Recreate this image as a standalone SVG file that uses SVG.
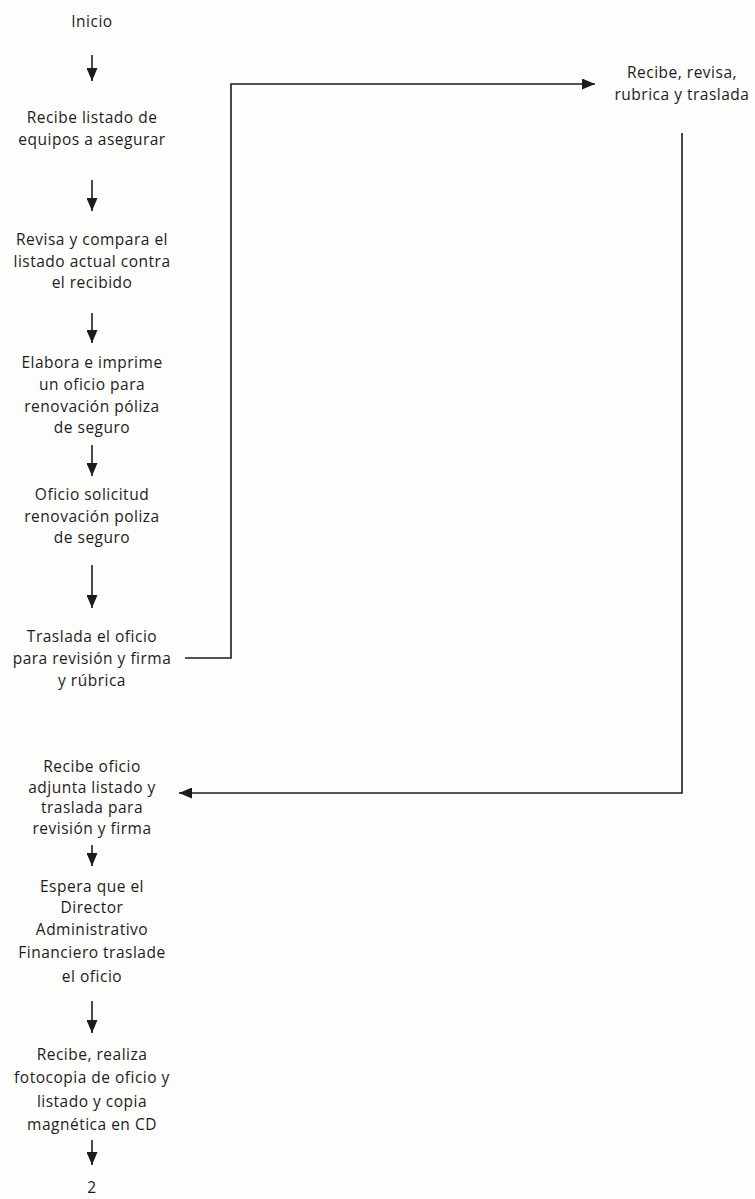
<svg xmlns="http://www.w3.org/2000/svg" width="755" height="1199" viewBox="0 0 755 1199">
  <style>
    .t { font-family: "Open Sans", Lato, sans-serif; font-size: 15.5px; letter-spacing: 0.5px; fill: #1c1c1c; text-anchor: middle; }
    .c { stroke: #1c1c1c; stroke-width: 1.6; fill: none; }
  </style>
  <defs>
    <marker id="ah" viewBox="0 0 13 11" refX="13" refY="5.5" markerWidth="13" markerHeight="11" markerUnits="userSpaceOnUse" orient="auto">
      <path d="M0,0 L13,5.5 L0,11 Z" fill="#1c1c1c"/>
    </marker>
  </defs>
  <rect width="755" height="1199" fill="#fdfdfc"/>

  <g id="n-inicio"><text class="t" x="92" y="27">Inicio</text></g>
  <g id="n-recibe-listado">
    <text class="t" x="92" y="123">Recibe listado de</text>
    <text class="t" x="92" y="145">equipos a asegurar</text>
  </g>
  <g id="n-revisa">
    <text class="t" x="92" y="245">Revisa y compara el</text>
    <text class="t" x="92" y="267">listado actual contra</text>
    <text class="t" x="92" y="288">el recibido</text>
  </g>
  <g id="n-elabora">
    <text class="t" x="92" y="368">Elabora e imprime</text>
    <text class="t" x="92" y="390">un oficio para</text>
    <text class="t" x="92" y="412">renovación póliza</text>
    <text class="t" x="92" y="433">de seguro</text>
  </g>
  <g id="n-oficio-solicitud">
    <text class="t" x="92" y="500">Oficio solicitud</text>
    <text class="t" x="92" y="522">renovación poliza</text>
    <text class="t" x="92" y="543">de seguro</text>
  </g>
  <g id="n-traslada">
    <text class="t" x="92" y="642">Traslada el oficio</text>
    <text class="t" x="92" y="664">para revisión y firma</text>
    <text class="t" x="92" y="686">y rúbrica</text>
  </g>
  <g id="n-director-revisa">
    <text class="t" x="682" y="78">Recibe, revisa,</text>
    <text class="t" x="682" y="100">rubrica y traslada</text>
  </g>
  <g id="n-recibe-oficio">
    <text class="t" x="92" y="772">Recibe oficio</text>
    <text class="t" x="92" y="793">adjunta listado y</text>
    <text class="t" x="92" y="813">traslada para</text>
    <text class="t" x="92" y="834">revisión y firma</text>
  </g>
  <g id="n-espera">
    <text class="t" x="92" y="892">Espera que el</text>
    <text class="t" x="92" y="913">Director</text>
    <text class="t" x="92" y="935">Administrativo</text>
    <text class="t" x="92" y="958">Financiero traslade</text>
    <text class="t" x="92" y="982">el oficio</text>
  </g>
  <g id="n-fotocopia">
    <text class="t" x="92" y="1060">Recibe, realiza</text>
    <text class="t" x="92" y="1083">fotocopia de oficio y</text>
    <text class="t" x="92" y="1107">listado y copia</text>
    <text class="t" x="92" y="1130">magnética en CD</text>
  </g>
  <g id="n-conector-2"><text class="t" x="92" y="1193">2</text></g>

  <g id="connectors">
    <line class="c" x1="92" y1="55" x2="92" y2="81" marker-end="url(#ah)"/>
    <line class="c" x1="92" y1="180" x2="92" y2="211" marker-end="url(#ah)"/>
    <line class="c" x1="92" y1="313" x2="92" y2="343" marker-end="url(#ah)"/>
    <line class="c" x1="92" y1="445" x2="92" y2="476" marker-end="url(#ah)"/>
    <line class="c" x1="92" y1="565" x2="92" y2="608" marker-end="url(#ah)"/>
    <polyline class="c" points="185,658 231,658 231,84 595,84" marker-end="url(#ah)"/>
    <polyline class="c" points="682,133 682,793 179,793" marker-end="url(#ah)"/>
    <line class="c" x1="92" y1="845" x2="92" y2="866" marker-end="url(#ah)"/>
    <line class="c" x1="92" y1="1001" x2="92" y2="1033" marker-end="url(#ah)"/>
    <line class="c" x1="92" y1="1140" x2="92" y2="1165" marker-end="url(#ah)"/>
  </g>
</svg>
